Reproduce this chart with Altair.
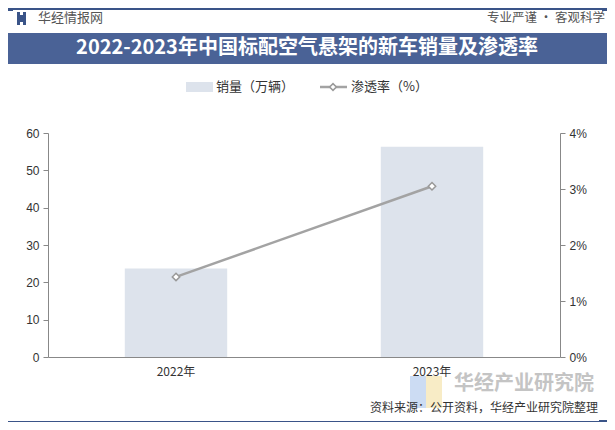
import altair as alt
import pandas as pd

years = ["2022年", "2023年"]
sales = [23.7, 56.3]          # 销量（万辆）
penetration = [0.0143, 0.0305]  # 渗透率

df = pd.DataFrame({"year": years, "sales": sales, "rate": penetration})

W, H = 512, 224
FONT = "Liberation Sans"
CJK = "Noto Sans CJK SC"
BLUE = "#3A5488"

x_enc = alt.X("year:N", sort=years, title=None,
              scale=alt.Scale(paddingInner=0.6, paddingOuter=0.3),
              axis=alt.Axis(labelAngle=0, ticks=False, domainColor="#888888",
                            labelFontSize=12, labelColor="#333333", labelFont=CJK,
                            labelPadding=9))

bars = alt.Chart(df).mark_bar(color="#DDE3EC").encode(
    x=x_enc,
    y=alt.Y("sales:Q", title=None, scale=alt.Scale(domain=[0, 60]),
            axis=alt.Axis(values=[0, 10, 20, 30, 40, 50, 60], grid=False,
                          domainColor="#888888", tickColor="#888888", tickSize=5,
                          labelFontSize=12, labelColor="#333333", labelFont=FONT,
                          labelPadding=4))
)

line = alt.Chart(df).mark_line(color="#A3A3A3", strokeWidth=2.5).encode(
    x=alt.X("year:N", sort=years),
    y=alt.Y("rate:Q", title=None, scale=alt.Scale(domain=[0, 0.04]),
            axis=alt.Axis(orient="right", format=".0%", values=[0, 0.01, 0.02, 0.03, 0.04],
                          grid=False, domainColor="#888888", tickColor="#888888", tickSize=5,
                          labelFontSize=12, labelColor="#333333", labelFont=FONT,
                          labelPadding=4))
)
pts = alt.Chart(df).mark_point(shape="diamond", filled=True, fill="white",
                               stroke="#999999", strokeWidth=1.5, size=55, opacity=1).encode(
    x=alt.X("year:N", sort=years),
    y=alt.Y("rate:Q", scale=alt.Scale(domain=[0, 0.04]), axis=None)
)

one = pd.DataFrame({"k": [0]})
base = alt.Chart(one)

def rect(x, x2, y, y2, color, opacity=1.0):
    return base.mark_rect(color=color, opacity=opacity, clip=False).encode(
        x=alt.value(x), x2=alt.value(x2), y=alt.value(y), y2=alt.value(y2))

def text(t, x, y, size=12, color="#333333", align="left", weight="normal", font=CJK, opacity=1.0):
    return base.mark_text(text=t, fontSize=size, color=color, align=align, baseline="middle",
                          fontWeight=weight, font=font, opacity=opacity, clip=False).encode(
        x=alt.value(x), y=alt.value(y))

deco = [
    # top line
    rect(-40, 559, -125, -123, BLUE),
    rect(-40, -35, -126, -122, BLUE),
    rect(554, 559, -126, -122, BLUE),
    # header logo
    rect(-31, -28, -121, -108, BLUE),
    rect(-25, -22, -121, -108, BLUE),
    rect(-28, -25, -118, -111, BLUE),
    text("华经情报网", -10, -115, size=13, color="#555555"),
    text("专业严谨 • 客观科学", 557, -115, size=12.5, color="#555555", align="right"),
    # title band
    rect(-40, 559, -100, -69, "#4A6296"),
    text("2022-2023年中国标配空气悬架的新车销量及渗透率", 259, -85, size=20,
         color="white", align="center", weight="bold"),
    # legend
    rect(138, 165, -51, -41, "#DDE3EC"),
    text("销量（万辆）", 168, -46, size=13),
    base.mark_rule(color="#A3A3A3", strokeWidth=2.5).encode(
        x=alt.value(272), x2=alt.value(299), y=alt.value(-46)),
    base.mark_point(shape="diamond", filled=True, fill="white", stroke="#999999",
                    strokeWidth=1.5, size=45, opacity=1).encode(x=alt.value(285), y=alt.value(-46)),
    text("渗透率（%）", 303, -46, size=13),
    # watermark bottom-right
    rect(362, 378, 243, 275, "#BFD3F0", 0.8),
    rect(378, 394, 243, 275, "#F6E7B8", 0.8),
    text("华经产业研究院", 476, 251, size=20, color="#C4C4C4", align="center", weight="bold"),
    # footer
    text("资料来源：公开资料，华经产业研究院整理", 550, 275, size=12, color="#333333", align="right"),
    rect(-40, 559, 288, 289.5, BLUE),
    rect(551, 559, 287, 291, BLUE),
]

chart = alt.layer(bars, line, pts, *deco).resolve_scale(y="independent").properties(
    width=W, height=H,
    autosize=alt.AutoSizeParams(type="none"),
    padding={"left": 40, "top": 125, "right": 47, "bottom": 65},
    background="white"
).configure_view(stroke=None)

chart.save("out.html", embed_options={"renderer": "svg", "actions": False})
